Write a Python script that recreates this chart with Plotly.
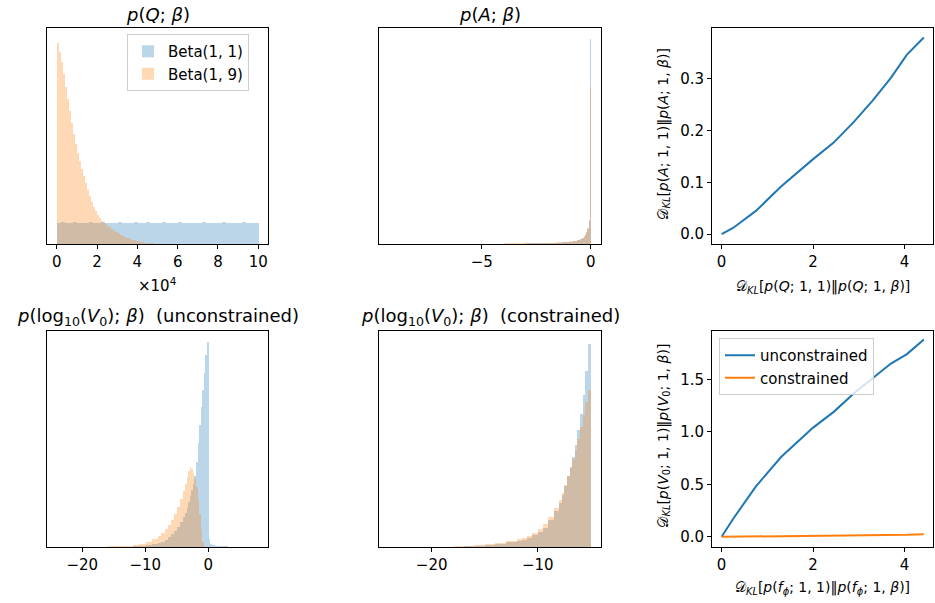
import numpy as np
import plotly.graph_objects as go
from plotly.subplots import make_subplots

# ---------------- data ----------------
# Panel 1: p(Q; beta), Q in units of 1e4 (histogram heights, arbitrary units)
Q_range = (0.0, 10.0)
Q_beta11 = [21.6, 21.9, 21.5, 21.8, 22.0, 21.7, 21.4, 21.8, 21.9, 21.6,
            21.7, 22.1, 21.5, 21.8, 21.6, 21.9, 21.7, 21.4, 21.8, 22.0,
            21.6, 21.7, 21.9, 21.5, 21.8, 21.6, 22.0, 21.7, 21.5, 21.8,
            21.9, 21.6, 21.7, 21.4, 21.8, 21.7, 22.0, 21.6, 21.8, 21.5,
            21.7, 21.9, 21.6, 21.8, 21.7, 21.5, 21.9, 21.7, 21.6, 21.8]
Q_range_b19 = (0.0, 6.0)
Q_beta19 = [201, 192, 182, 170, 157, 145, 133, 121, 110, 100,
            91, 83, 75, 68, 61, 54, 48, 42, 37, 33,
            29, 26, 23.5, 21.5, 20, 18.5, 17, 15.5, 14, 12.5,
            11, 9.8, 8.8, 7.8, 6.8, 6.0, 5.2, 4.5, 3.9, 3.4,
            2.9, 2.5, 2.1, 1.8, 1.5, 1.3, 1.1, 0.95, 0.8, 0.68,
            0.57, 0.48, 0.4, 0.33, 0.27, 0.22, 0.18, 0.14, 0.11, 0.09]

# Panel 2: p(A; beta)
A_edges = [-9.3, -6.0, -4.0, -3.0, -2.5, -2.0, -1.6, -1.3, -1.0, -0.8, -0.65,
           -0.5, -0.4, -0.3, -0.25, -0.2, -0.15, -0.1, -0.05, 0.0]
A_beta11 = [0.15, 0.4, 0.8, 1.0, 1.2, 1.5, 1.8, 2.2, 2.8, 3.4, 4.1, 5.0, 6.2,
            7.6, 9.5, 12.0, 15.5, 23.0, 205.0]
A_beta19 = [0.2, 0.5, 0.9, 1.1, 1.3, 1.6, 1.9, 2.3, 3.0, 3.6, 4.3, 5.3, 6.5,
            8.0, 10.0, 12.5, 16.0, 24.0, 157.0]

# Panel 4: p(log10 V0; beta) unconstrained
Vu_edges = [-24, -20, -16, -14, -12, -11, -10, -9, -8, -7.5, -7, -6.5, -6,
            -5.5, -5, -4.5, -4, -3.75, -3.5, -3.25, -3, -2.75, -2.5, -2.25,
            -2, -1.75, -1.5, -1.25, -1, -0.75, -0.5, -0.25, 0, 0.25, 0.5, 1,
            2, 3, 4, 5, 8]
Vu_beta11 = [0.0, 0.05, 0.15, 0.3, 0.6, 1.0, 1.6, 2.6, 4.0, 5.5, 7.5, 10,
             13, 16, 20, 25, 30, 34, 39, 45, 51, 57, 63, 71, 85, 104, 122,
             140, 157, 174, 192, 205, 8, 3, 2, 1.3, 0.8, 0.5, 0.3, 0.1]
Vu_beta19 = [0.05, 0.2, 0.6, 1.1, 2.0, 3.2, 5, 8, 11.5, 14.5, 18, 22, 27,
             33, 40, 48, 56, 63, 70, 76, 80, 78, 74, 68, 60, 47, 33, 18, 5,
             0.8, 0, 0, 0, 0, 0, 0, 0, 0, 0, 0]

# Panel 5: p(log10 V0; beta) constrained
Vc_edges = [-24, -21, -18, -17, -16, -15, -14, -13, -12, -11.5, -11, -10.5,
            -10, -9.5, -9, -8.5, -8, -7.75, -7.5, -7.25, -7, -6.75, -6.5,
            -6.25, -6, -5.75, -5.5, -5.25, -5]
Vc_beta11 = [0.05, 0.2, 0.5, 0.9, 1.5, 2.4, 3.5, 4.8, 6.2, 7.5, 9.5, 12, 15,
             19, 27, 36, 44, 52, 61, 71, 80, 90, 102, 117, 133, 152, 176, 203]
Vc_beta19 = [0.1, 0.4, 0.9, 1.4, 2.1, 3.1, 4.4, 6.0, 7.8, 9.3, 11.5, 14, 18,
             23, 30, 39, 47, 54, 62, 71, 79, 88, 97, 108, 120, 132, 145, 157]

# Panel 3 and 6: KL curves
KL_Q = [0, 0.25, 0.75, 1.3, 2.0, 2.45, 2.9, 3.3, 3.7, 4.05, 4.42]
KL_A = [0, 0.012, 0.045, 0.092, 0.145, 0.177, 0.218, 0.258, 0.302, 0.347, 0.38]
KL_f = [0, 0.25, 0.75, 1.3, 2.0, 2.45, 2.9, 3.3, 3.7, 4.05, 4.42]
KL_V_unc = [0, 0.17, 0.48, 0.76, 1.04, 1.19, 1.37, 1.51, 1.65, 1.74, 1.88]
KL_V_con = [0, 0.001, 0.002, 0.004, 0.006, 0.008, 0.010, 0.013, 0.016, 0.019, 0.025]

# ---------------- styling ----------------
W, H = 935, 603
BLUE = "#1f77b4"
ORANGE = "#ff7f0e"
BLUE_A = "rgba(31,119,180,0.3)"
ORANGE_A = "rgba(255,127,14,0.3)"
FONT = "DejaVu Sans"


def centers_widths(edges):
    e = np.asarray(edges, dtype=float)
    return (e[:-1] + e[1:]) / 2, np.diff(e)


def uniform(rng, n):
    return centers_widths(np.linspace(rng[0], rng[1], n + 1))


fig = make_subplots(rows=2, cols=3)


def hist(x_w, heights, color, row, col, name=None, legend=None):
    c, w = x_w
    fig.add_trace(go.Bar(x=c, y=heights, width=w, marker=dict(color=color, line=dict(width=0)),
                         name=name, showlegend=name is not None,
                         legend=legend or "legend"), row=row, col=col)


hist(uniform(Q_range, len(Q_beta11)), Q_beta11, BLUE_A, 1, 1, "Beta(1, 1)", "legend")
hist(uniform(Q_range_b19, len(Q_beta19)), Q_beta19, ORANGE_A, 1, 1, "Beta(1, 9)", "legend")
hist(centers_widths(A_edges), A_beta11, BLUE_A, 1, 2)
hist(centers_widths(A_edges), A_beta19, ORANGE_A, 1, 2)
hist(centers_widths(Vu_edges), Vu_beta11, BLUE_A, 2, 1)
hist(centers_widths(Vu_edges), Vu_beta19, ORANGE_A, 2, 1)
hist(centers_widths(Vc_edges), Vc_beta11, BLUE_A, 2, 2)
hist(centers_widths(Vc_edges), Vc_beta19, ORANGE_A, 2, 2)

fig.add_trace(go.Scatter(x=KL_Q, y=KL_A, mode="lines", line=dict(color=BLUE, width=2),
                         showlegend=False), row=1, col=3)
fig.add_trace(go.Scatter(x=KL_f, y=KL_V_unc, mode="lines", line=dict(color=BLUE, width=2),
                         name="unconstrained", legend="legend2"), row=2, col=3)
fig.add_trace(go.Scatter(x=KL_f, y=KL_V_con, mode="lines", line=dict(color=ORANGE, width=2),
                         name="constrained", legend="legend2"), row=2, col=3)

cols_px = [(46.7, 268.3), (379.0, 601.0), (712.0, 933.0)]
rows_px = [(27.7, 244.0), (331.0, 547.0)]

axis_common = dict(showline=True, mirror=True, linecolor="black", linewidth=1,
                   ticks="outside", ticklen=4, tickwidth=1, tickcolor="black",
                   showgrid=False, zeroline=False,
                   tickfont=dict(family=FONT, size=15, color="black"))

xranges = {(1, 1): [-0.5, 10.5], (1, 2): [-9.71, 0.47], (1, 3): [-0.21, 4.62],
           (2, 1): [-25.65, 9.52], (2, 2): [-24.97, -4.03], (2, 3): [-0.21, 4.62]}
xticks = {(1, 1): [0, 2, 4, 6, 8, 10], (1, 2): [-5, 0], (1, 3): [0, 2, 4],
          (2, 1): [-20, -10, 0], (2, 2): [-20, -10], (2, 3): [0, 2, 4]}
yranges = {(1, 1): [0, 216.3], (1, 2): [0, 216.3], (1, 3): [-0.019, 0.399],
           (2, 1): [0, 216.0], (2, 2): [0, 216.0], (2, 3): [-0.097, 1.96]}

for r in (1, 2):
    for c in (1, 2, 3):
        x0, x1 = cols_px[c - 1]
        t0, t1 = rows_px[r - 1]
        fig.update_xaxes(domain=[x0 / W, x1 / W], range=xranges[(r, c)],
                         tickvals=xticks[(r, c)], **axis_common, row=r, col=c)
        ykw = dict(domain=[1 - t1 / H, 1 - t0 / H], range=yranges[(r, c)], **axis_common)
        if c != 3:
            ykw.update(ticks="", showticklabels=False)
        else:
            ykw.update(tickformat=".1f")
        fig.update_yaxes(row=r, col=c, **ykw)

fig.update_yaxes(tickvals=[0.0, 0.1, 0.2, 0.3], row=1, col=3)
fig.update_yaxes(tickvals=[0.0, 0.5, 1.0, 1.5], row=2, col=3)

ann = []
TF = dict(family=FONT, size=18, color="black")
LF = dict(family=FONT, size=14, color="black")


def add_ann(text, xpx, ypx, font, angle=0):
    ann.append(dict(text=text, x=xpx / W, y=1 - ypx / H, xref="paper", yref="paper",
                    showarrow=False, font=font, textangle=angle,
                    xanchor="center", yanchor="middle"))


add_ann("<i>p</i>(<i>Q</i>; <i>β</i>)", 157.5, 14.5, TF)
add_ann("<i>p</i>(<i>A</i>; <i>β</i>)", 490.0, 14.5, TF)
add_ann("<i>p</i>(log<sub>10</sub>(<i>V</i><sub>0</sub>); <i>β</i>)\u00a0\u00a0(unconstrained)", 157.5, 316.5, TF)
add_ann("<i>p</i>(log<sub>10</sub>(<i>V</i><sub>0</sub>); <i>β</i>)\u00a0\u00a0(constrained)", 490.0, 316.5, TF)
add_ann("×10<sup>4</sup>", 157.5, 285.0, dict(family=FONT, size=15, color="black"))
add_ann("𝒟<sub><i>KL</i></sub>[<i>p</i>(<i>Q</i>; 1, 1)‖<i>p</i>(<i>Q</i>; 1, <i>β</i>)]", 822.5, 286.5, LF)
add_ann("𝒟<sub><i>KL</i></sub>[<i>p</i>(<i>f</i><sub><i>ϕ</i></sub>; 1, 1)‖<i>p</i>(<i>f</i><sub><i>ϕ</i></sub>; 1, <i>β</i>)]", 822.5, 587.5, LF)
add_ann("𝒟<sub><i>KL</i></sub>[<i>p</i>(<i>A</i>; 1, 1)‖<i>p</i>(<i>A</i>; 1, <i>β</i>)]", 663.5, 134.0, LF, -90)
add_ann("𝒟<sub><i>KL</i></sub>[<i>p</i>(<i>V</i><sub>0</sub>; 1, 1)‖<i>p</i>(<i>V</i><sub>0</sub>; 1, <i>β</i>)]", 663.5, 436.0, LF, -90)

legend_style = dict(bgcolor="rgba(255,255,255,0.8)", bordercolor="#cccccc", borderwidth=1,
                    font=dict(family=FONT, size=15, color="black"),
                    xanchor="left", yanchor="top", itemwidth=30, tracegroupgap=0)

fig.update_layout(
    width=W, height=H, margin=dict(l=0, r=0, t=0, b=0),
    paper_bgcolor="white", plot_bgcolor="white",
    barmode="overlay", bargap=0,
    annotations=ann,
    legend=dict(x=127 / W, y=1 - 34 / H, **legend_style),
    legend2=dict(x=719 / W, y=1 - 338 / H, **legend_style),
    font=dict(family=FONT, color="black"),
)

fig.write_html("out.html", config={"displayModeBar": False},
               post_script="document.body.style.margin='0';document.body.style.overflow='hidden';")
